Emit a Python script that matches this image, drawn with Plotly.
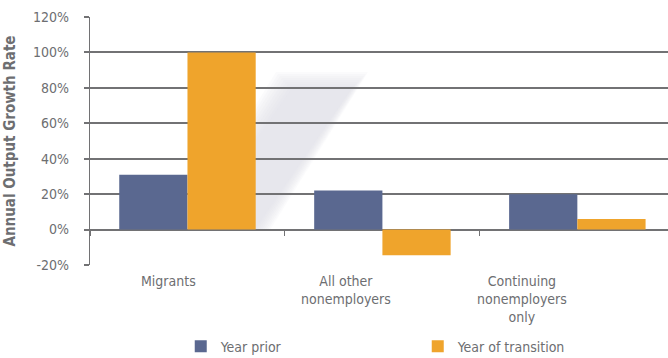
import plotly.graph_objects as go

# Data
categories = ["Migrants", "All other<br>nonemployers", "Continuing<br>nonemployers<br>only"]
year_prior = [31, 22, 20]
year_of_transition = [100, -14.5, 6]
y_ticks = [-20, 0, 20, 40, 60, 80, 100, 120]
y_tick_labels = ["-20%", "0%", "20%", "40%", "60%", "80%", "100%", "120%"]

BLUE = "#5a6890"
ORANGE = "#efa42c"
GREY_TEXT = "#6d6e71"
GRID = "#727274"
FONT = "DejaVu Sans Condensed, Liberation Sans Narrow, sans-serif"

W, H = 668, 358
L, T, B = 90, 17, 93
plot_w = W - L
plot_h = H - T - B

fig = go.Figure()
fig.add_trace(go.Bar(x=categories, y=year_prior, name="Year prior",
                     marker=dict(color=BLUE, line=dict(width=0))))
fig.add_trace(go.Bar(x=categories, y=year_of_transition, name="Year of transition",
                     marker=dict(color=ORANGE, line=dict(width=0))))

# Soft diagonal shadow behind the bars (pixel polygon, converted to paper units)
def to_paper(px, py):
    return (px - L) / plot_w, (T + plot_h - py) / plot_h

core = [(292, 88), (352, 88), (254, 230), (194, 230)]
for grow in range(16, -1, -2):
    pts = [(core[0][0] - grow, core[0][1] - grow), (core[1][0] + grow, core[1][1] - grow),
           (core[2][0] + grow, core[2][1]), (core[3][0] - grow, core[3][1])]
    p = [to_paper(x, y) for x, y in pts]
    path = "M {} {} L {} {} L {} {} L {} {} Z".format(*[c for xy in p for c in xy])
    fig.add_shape(type="path", path=path, xref="paper", yref="paper",
                  fillcolor="#e2e3e4", opacity=0.13, line=dict(width=0), layer="below")

# Category labels, placed under each group
label_shift = [-19, -36, -55]
for cat, dx in zip(categories, label_shift):
    fig.add_annotation(x=cat, y=0, xref="x", yref="paper", yanchor="top", yshift=-6,
                       xshift=dx, text=cat, showarrow=False, align="center",
                       font=dict(family=FONT, size=14, color=GREY_TEXT))

fig.update_layout(
    width=W, height=H,
    margin=dict(l=L, r=0, t=T, b=B, autoexpand=False),
    paper_bgcolor="white", plot_bgcolor="white",
    barmode="group", bargap=0.30, bargroupgap=0,
    font=dict(family=FONT, color=GREY_TEXT, size=14),
    showlegend=True,
    legend=dict(orientation="h", x=0.157, xanchor="left", y=-0.265, yanchor="top",
                entrywidth=192, entrywidthmode="pixels",
                font=dict(family=FONT, size=14, color=GREY_TEXT),
                bgcolor="rgba(0,0,0,0)"),
    xaxis=dict(
        type="category", range=[-0.5, 2.465],
        anchor="free", position=(0 - y_ticks[0]) / (y_ticks[-1] - y_ticks[0]),
        showgrid=False, showline=False, zeroline=False,
        tickson="boundaries", ticks="outside", ticklen=5, tickwidth=1.2, tickcolor=GRID,
        showticklabels=False, fixedrange=True,
    ),
    yaxis=dict(
        range=[y_ticks[0], y_ticks[-1]],
        tickvals=y_ticks, ticktext=y_tick_labels,
        showgrid=True, gridcolor=GRID, gridwidth=1.5,
        zeroline=True, zerolinecolor=GRID, zerolinewidth=2.4,
        showline=True, linecolor=GRID, linewidth=1.2,
        ticks="outside", ticklen=5, tickcolor=GRID, tickwidth=1.5,
        ticklabelstandoff=12,
        tickfont=dict(family=FONT, size=14, color=GREY_TEXT),
        title=dict(text="<b>Annual Output Growth Rate</b>", standoff=13,
                   font=dict(family=FONT, size=15, color=GREY_TEXT)),
    ),
)

fig.write_html("out.html")
